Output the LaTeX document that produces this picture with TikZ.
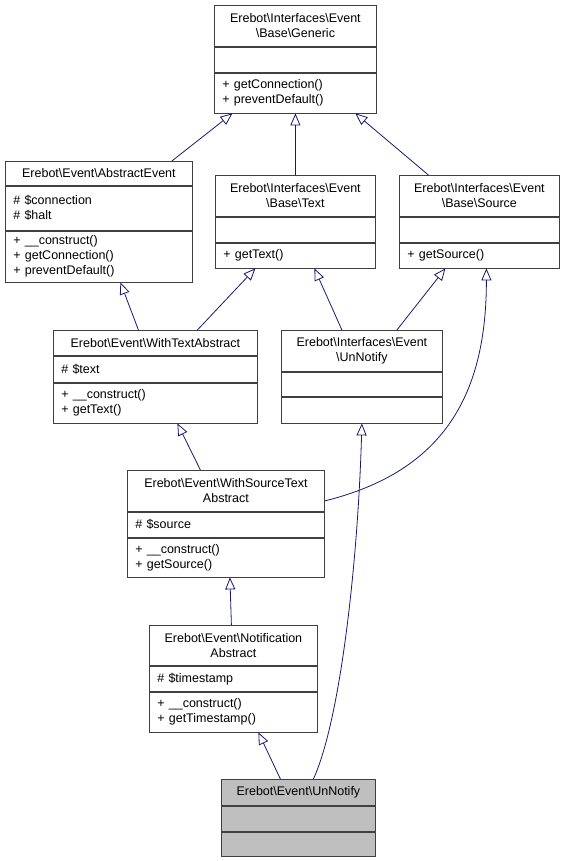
\documentclass[tikz,border=0pt]{standalone}
\usepackage{fontspec}
\setmainfont{Liberation Sans}
\usetikzlibrary{arrows.meta}
\definecolor{EdgeBlue}{HTML}{191970}
\definecolor{BoxLine}{HTML}{404040}
\definecolor{FocusGray}{HTML}{BFBFBF}
\newcommand{\bsl}{\textbackslash}
\tikzset{
  classtitle/.style 2 args={
    draw=BoxLine,
    fill=white,
    line width=0.8pt,
    anchor=north west,
    align=center,
    inner sep=0pt,
    font=\fontsize{12.5pt}{15pt}\selectfont,
    minimum width=#1,
    minimum height=#2
  },
  classpart/.style 2 args={
    draw=BoxLine,
    fill=white,
    line width=0.8pt,
    anchor=north west,
    align=left,
    inner xsep=8pt,
    inner ysep=0pt,
    font=\fontsize{12.5pt}{15pt}\selectfont,
    text width=#1,
    minimum height=#2
  },
  inherit/.style={draw=EdgeBlue, line width=0.8pt, -{Triangle[open, length=12pt, width=10pt]}}
}

\begin{document}
\begin{tikzpicture}[x=1pt, y=-1pt]
\useasboundingbox (0,0) rectangle (565,861);
% Base\Generic
\node[classtitle={162pt}{41pt}] (generic) at (214,5) {Erebot\bsl Interfaces\bsl Event\\\bsl Base\bsl Generic};
\node[classpart={146pt}{25pt}] (generic-a) at (generic.south west) {};
\node[classpart={146pt}{40pt}] (generic-m) at (generic-a.south west) {+ getConnection()\\+ preventDefault()};
% AbstractEvent
\node[classtitle={187pt}{24pt}] (aevent) at (5,161) {Erebot\bsl Event\bsl AbstractEvent};
\node[classpart={171pt}{44pt}] (aevent-a) at (aevent.south west) {\# \$connection\\\# \$halt};
\node[classpart={171pt}{51pt}] (aevent-m) at (aevent-a.south west) {+ \_\_construct()\\+ getConnection()\\+ preventDefault()};
% Base\Text
\node[classtitle={160pt}{41pt}] (text) at (215,175) {Erebot\bsl Interfaces\bsl Event\\\bsl Base\bsl Text};
\node[classpart={144pt}{25pt}] (text-a) at (text.south west) {};
\node[classpart={144pt}{25pt}] (text-m) at (text-a.south west) {+ getText()};
% Base\Source
\node[classtitle={160pt}{41pt}] (source) at (399,175) {Erebot\bsl Interfaces\bsl Event\\\bsl Base\bsl Source};
\node[classpart={144pt}{25pt}] (source-a) at (source.south west) {};
\node[classpart={144pt}{25pt}] (source-m) at (source-a.south west) {+ getSource()};
% WithTextAbstract
\node[classtitle={204pt}{25pt}] (wtext) at (53,330) {Erebot\bsl Event\bsl WithTextAbstract};
\node[classpart={188pt}{26pt}] (wtext-a) at (wtext.south west) {\# \$text};
\node[classpart={188pt}{40pt}] (wtext-m) at (wtext-a.south west) {+ \_\_construct()\\+ getText()};
% Interfaces\Event\UnNotify
\node[classtitle={161pt}{41pt}] (iunnotify) at (281,330) {Erebot\bsl Interfaces\bsl Event\\\bsl UnNotify};
\node[classpart={145pt}{24pt}] (iunnotify-a) at (iunnotify.south west) {};
\node[classpart={145pt}{26pt}] (iunnotify-m) at (iunnotify-a.south west) {};
% WithSourceTextAbstract
\node[classtitle={197pt}{41pt}] (wsource) at (127,470) {Erebot\bsl Event\bsl WithSourceText\\Abstract};
\node[classpart={181pt}{25pt}] (wsource-a) at (wsource.south west) {\# \$source};
\node[classpart={181pt}{39pt}] (wsource-m) at (wsource-a.south west) {+ \_\_construct()\\+ getSource()};
% NotificationAbstract
\node[classtitle={168pt}{40pt}] (notif) at (149,625) {Erebot\bsl Event\bsl Notification\\Abstract};
\node[classpart={152pt}{25pt}] (notif-a) at (notif.south west) {\# \$timestamp};
\node[classpart={152pt}{40pt}] (notif-m) at (notif-a.south west) {+ \_\_construct()\\+ getTimestamp()};
% Event\UnNotify
\node[classtitle={154pt}{26pt}, fill=FocusGray] (unnotify) at (221,779) {Erebot\bsl Event\bsl UnNotify};
\node[classpart={138pt}{25pt}, fill=FocusGray] (unnotify-a) at (unnotify.south west) {};
\node[classpart={138pt}{24pt}, fill=FocusGray] (unnotify-m) at (unnotify-a.south west) {};
% inheritance
\draw[inherit] ([xshift=73pt]aevent.north) -- ([xshift=-63pt]generic-m.south);
\draw[inherit] (text.north) -- (generic-m.south);
\draw[inherit] ([xshift=-51pt]source.north) -- ([xshift=60pt]generic-m.south);
\draw[inherit] ([xshift=-17pt]wtext.north) -- ([xshift=21.5pt]aevent-m.south);
\draw[inherit] ([xshift=42pt]wtext.north) -- ([xshift=-40pt]text-m.south);
\draw[inherit] ([xshift=-20pt]iunnotify.north) -- ([xshift=19pt]text-m.south);
\draw[inherit] ([xshift=35pt]iunnotify.north) -- ([xshift=-34pt]source-m.south);
\draw[inherit] ([xshift=-25.5pt]wsource.north) -- ([xshift=22pt]wtext-m.south);
\draw[inherit] ([yshift=-10pt]wsource.east) .. controls +(121,-30) and +(0,124) .. ([xshift=7pt]source-m.south);
\draw[inherit] ([xshift=-2pt]notif.north) -- ([xshift=4pt]wsource-m.south);
\draw[inherit] ([xshift=-18pt]unnotify.north) -- ([xshift=25pt]notif-m.south);
\draw[inherit] ([xshift=15pt]unnotify.north) .. controls +(27,-59) and +(-4,139) .. (iunnotify-m.south);
\end{tikzpicture}
\end{document}
